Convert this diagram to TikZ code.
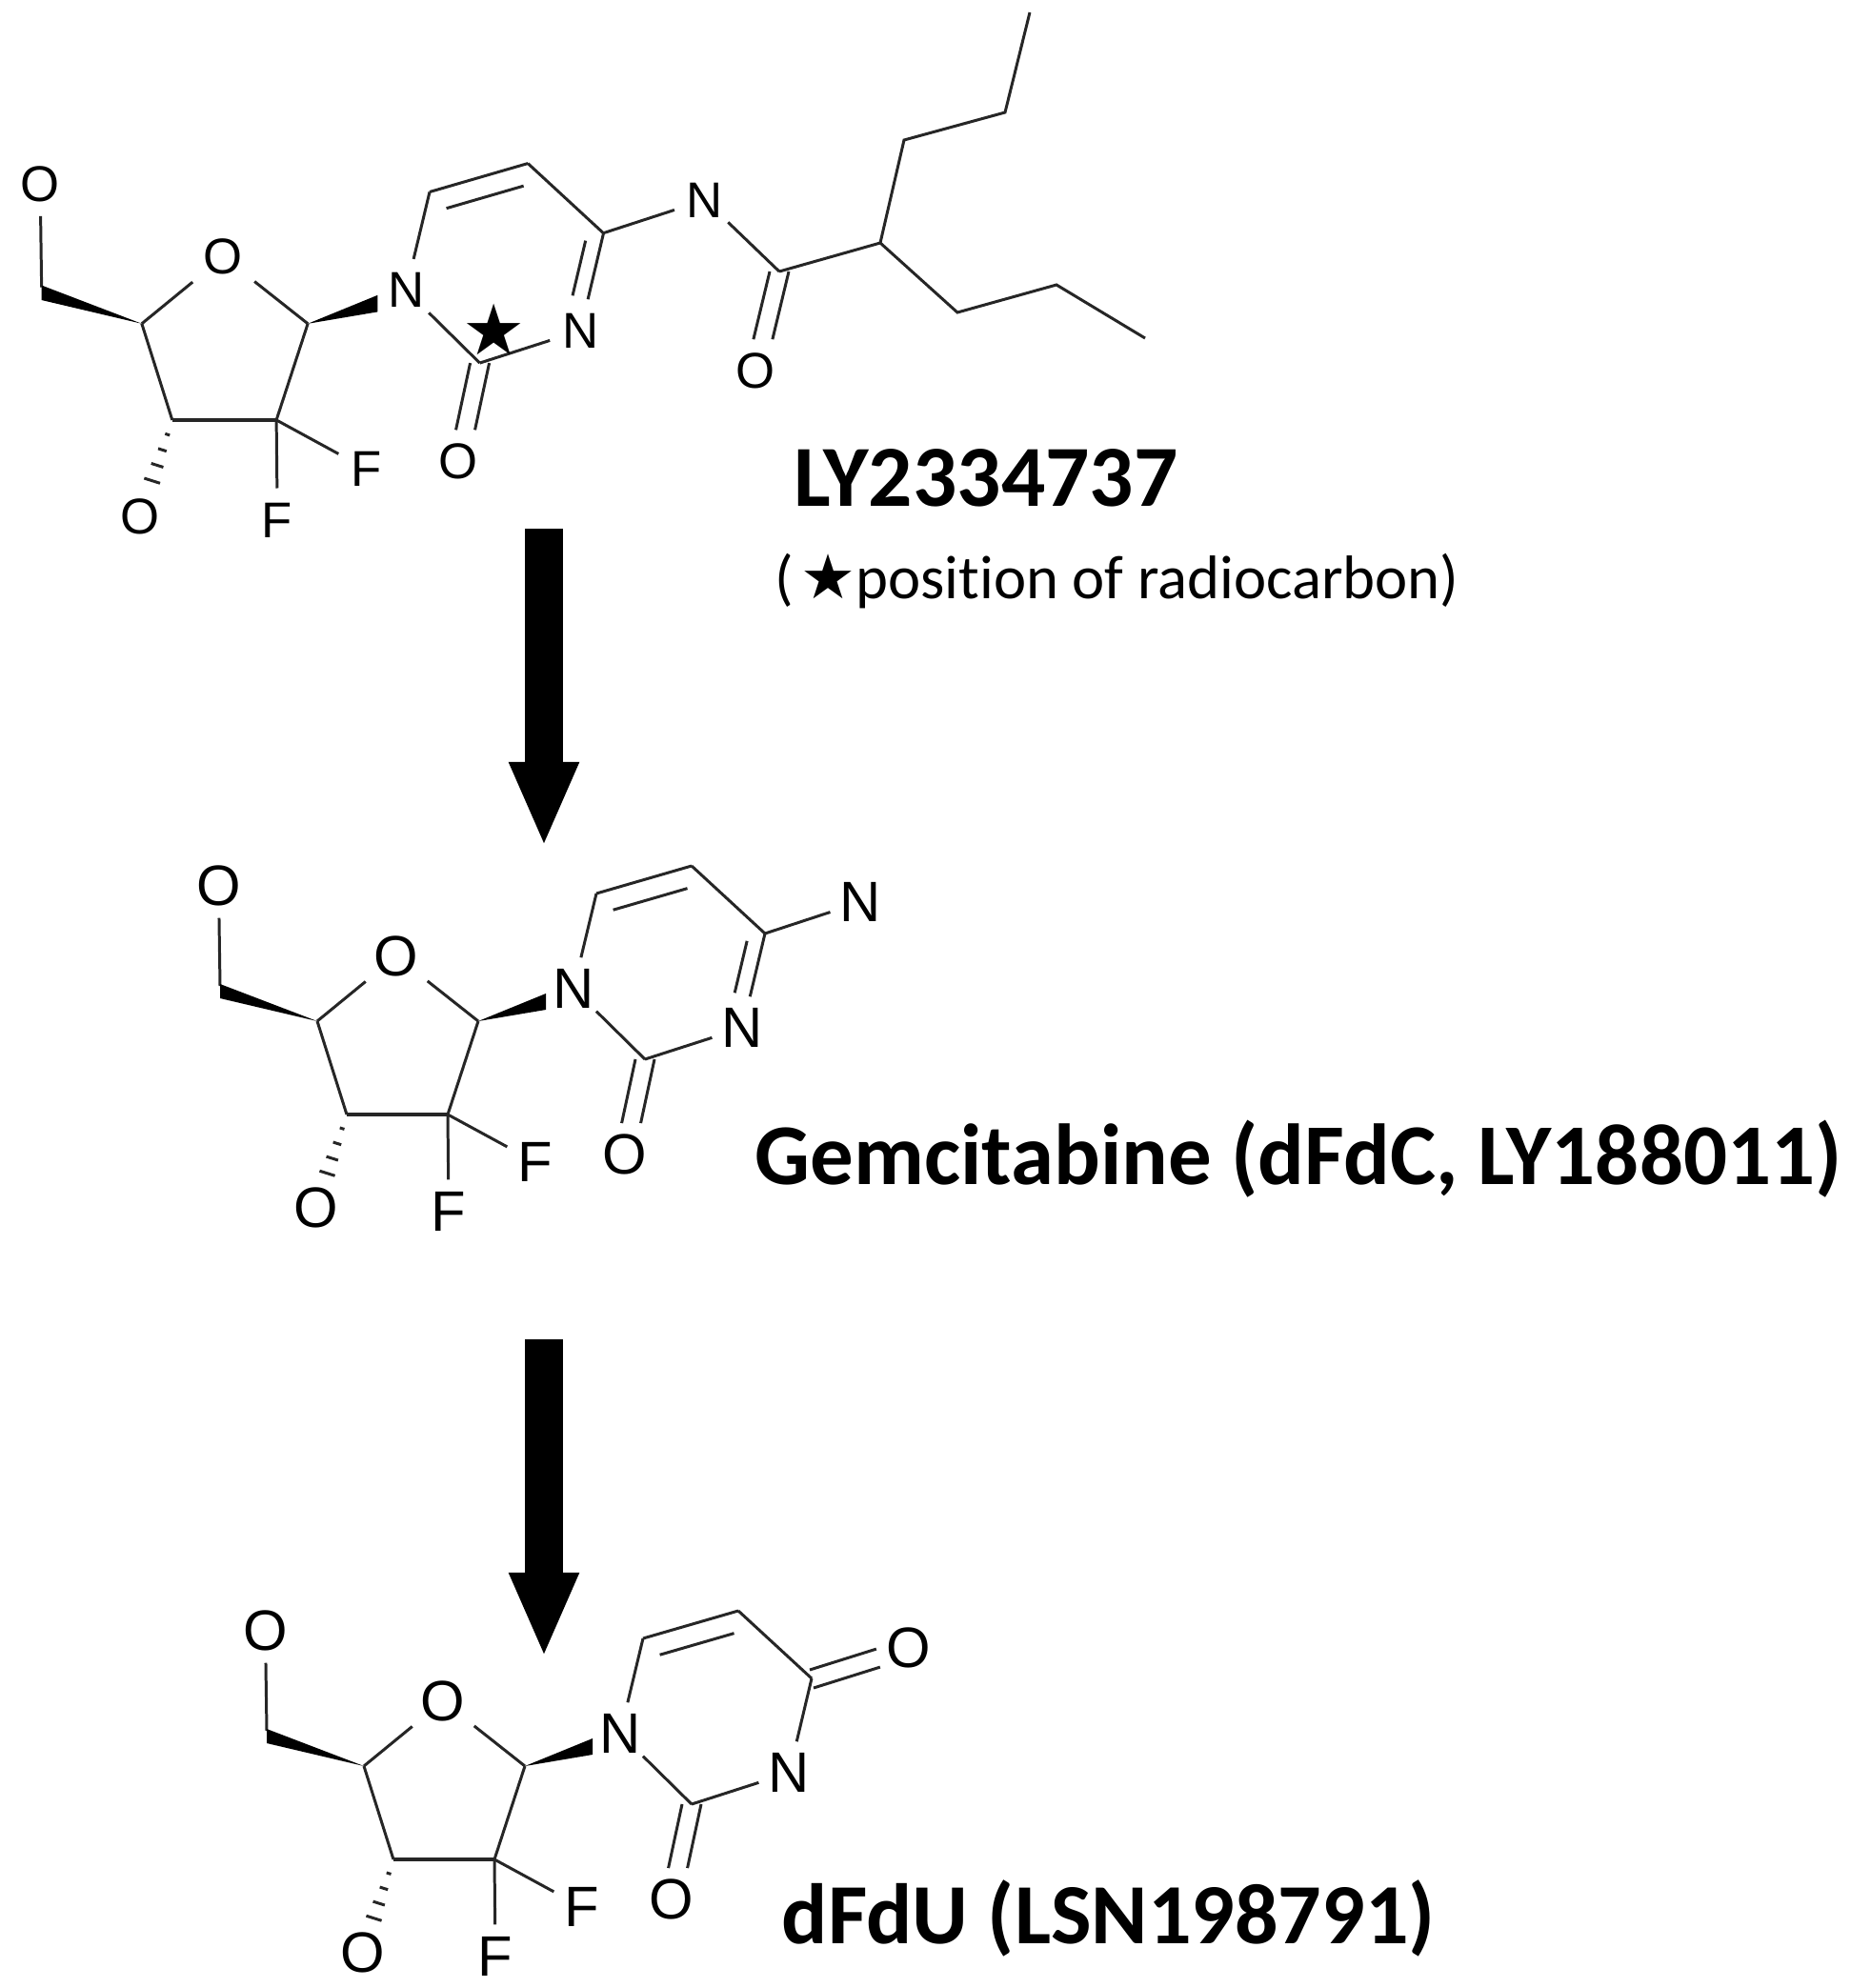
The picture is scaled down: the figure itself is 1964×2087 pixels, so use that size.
\documentclass[tikz,border=0pt]{standalone}
\usepackage{fontspec}
\setmainfont[Ligatures=NoCommon]{Carlito}
\newfontfamily\atomfont{Liberation Sans}
\newfontfamily\starfont{DejaVu Sans}
\usetikzlibrary{calc, arrows.meta}

\tikzset{
	bond/.style={line width=.85pt, color=black!85},
	heavybond/.style={line width=1.3pt, color=black!85},
	atom/.style={circle, inner sep=0pt, minimum size=.66cm, font=\atomfont\fontsize{17}{20}\selectfont},
	small atoms/.style={atom/.append style={font=\atomfont\fontsize{15}{18}\selectfont}},
	wedge/.style={fill=black, draw=none},
	bigarrow/.style={line width=.39cm, -{Triangle[width=.67cm,length=.89cm]}},
	title/.style={anchor=base west, inner sep=0pt, font=\bfseries\fontsize{26}{30}\selectfont},
	caption/.style={anchor=base west, inner sep=0pt, font=\fontsize{18.4}{22}\selectfont},
}

% Sugar and the base ring, without the C4-N3 bond
\newcommand{\sugarbase}{
	\node[atom] (o5) at (229.5,930) {O};
	\node[atom, minimum size=.82cm] (o4s) at (416,1004) {O};
	\node[atom] (n1) at (602,1038) {N};
	\node[atom] (n3) at (779.5,1079) {N};
	\node[atom] (o2) at (655.5,1212) {O};
	\node[atom] (fa) at (562,1220) {F};
	\node[atom] (fb) at (471,1272) {F};
	\node[atom] (o3s) at (331.5,1268) {O};
	\coordinate (c5s) at (231,1035);
	\coordinate (c5a) at (231,1033);
	\coordinate (c5b) at (231,1048);
	\coordinate (c4s) at (333,1072);
	\coordinate (c3s) at (364,1170);
	\coordinate (c2s) at (470,1170);
	\coordinate (c1s) at (502,1072);
	\coordinate (n1a) at (573,1043);
	\coordinate (n1b) at (573,1060);
	\coordinate (c6) at (626,938);
	\coordinate (c5) at (726,909);
	\coordinate (c4) at (803,980);
	\coordinate (c2) at (677,1112);
	\draw[bond] (o5) -- (c5s);
	\fill[wedge] (c4s) -- (c5a) -- (c5b) -- cycle;
	\fill[wedge] (c1s) -- (n1a) -- (n1b) -- cycle;
	\draw[bond] (c4s) -- (o4s);
	\draw[bond] (o4s) -- (c1s);
	\draw[bond] (c4s) -- (c3s);
	\draw[bond] (c1s) -- (c2s);
	\draw[heavybond] (c3s) -- (c2s);
	\draw[bond] (c2s) -- (fa);
	\draw[bond] (c2s) -- (fb);
	\foreach \t/\w in {.15/2.5, .31/4.5, .47/6.5, .63/8.5}
		\draw[bond] ($(c3s)!\t!(o3s.center)+(-\w*.95,-\w*.3)$) -- ($(c3s)!\t!(o3s.center)+(\w*.95,\w*.3)$);
	\draw[bond] (n1) -- (c6);
	\draw[bond] (c6) -- (c5);
	\draw[bond, shorten <=.1cm, shorten >=.13cm, transform canvas={shift={(8,20)}}] (c6) -- (c5);
	\draw[bond] (c5) -- (c4);
	\draw[bond] (n1) -- (c2);
	\draw[bond] (n3) -- (c2);
	\draw[bond, transform canvas={shift={(-10,0)}}] (c2) -- (o2);
	\draw[bond, transform canvas={shift={(10,0)}}] (c2) -- (o2);
}

\begin{document}
\begin{tikzpicture}[x=.01cm, y=-.01cm]
	\useasboundingbox (0,0) rectangle (1964,2087);

	% First molecule
	\begin{scope}[name prefix=top-, small atoms, xscale=1.031, yscale=1.032, shift={(-188.7,-742.9)}]
		\sugarbase
		\draw[bond] (c4) -- (n3);
		\draw[bond, shorten <=.08cm, shorten >=.04cm, transform canvas={shift={(-17,0)}}] (c4) -- (n3);
	\end{scope}
	\begin{scope}[small atoms]
		\node[atom] (nh) at (740,210) {N};
		\node[atom] (oamide) at (793,389) {O};
		\coordinate (co) at (818,285);
		\coordinate (ch) at (924,255);
		\coordinate (cha) at (949,147);
		\coordinate (chb) at (1055,118);
		\coordinate (chc) at (1081,13);
		\coordinate (chd) at (1005,328);
		\coordinate (che) at (1109,299);
		\coordinate (chf) at (1202,355);
		\draw[bond] (top-c4) -- (nh);
		\draw[bond] (nh) -- (co);
		\draw[bond] (co) -- (ch);
		\draw[bond, transform canvas={shift={(-10,0)}}] (co) -- (oamide);
		\draw[bond, transform canvas={shift={(10,0)}}] (co) -- (oamide);
		\draw[bond] (ch) -- (cha) -- (chb) -- (chc);
		\draw[bond] (ch) -- (chd) -- (che) -- (chf);
	\end{scope}
	\node[inner sep=0pt, font=\starfont\fontsize{21}{24}\selectfont] (star) at (519,346) {★};
	\node[title] (lyname) at (833,531) {LY2334737};
	\node[caption] (lynote) at (813,628) {({\starfont\hskip 2pt ★}position of radiocarbon)};

	% Second molecule
	\begin{scope}[name prefix=mid-]
		\sugarbase
		\node[atom] (n4) at (903.5,947) {N};
		\draw[bond] (c4) -- (n3);
		\draw[bond, shorten <=.08cm, shorten >=.04cm, transform canvas={shift={(-17,0)}}] (c4) -- (n3);
		\draw[bond] (c4) -- (n4);
	\end{scope}
	\node[title, font=\bfseries\fontsize{25.85}{30}\selectfont] (gemname) at (792,1243) {Gemcitabine (dFdC, LY188011)};

	% Third molecule
	\begin{scope}[name prefix=low-, shift={(49,782)}]
		\sugarbase
		\node[atom] (o4) at (905,948) {O};
		\draw[bond] (c4) -- (n3);
		\draw[bond, transform canvas={shift={(-2,-9)}}] (c4) -- (o4);
		\draw[bond, transform canvas={shift={(2,10)}}] (c4) -- (o4);
	\end{scope}
	\node[title, font=\bfseries\fontsize{25.6}{30}\selectfont] (dfduname) at (820,2040) {dFdU (LSN198791)};

	% Arrows
	\coordinate (arrowa) at (571,555);
	\coordinate (arrowb) at (571,889);
	\coordinate (arrowc) at (571,1406);
	\coordinate (arrowd) at (571,1740);
	\draw[bigarrow] (arrowa) -- (arrowb);
	\draw[bigarrow] (arrowc) -- (arrowd);
\end{tikzpicture}
\end{document}
